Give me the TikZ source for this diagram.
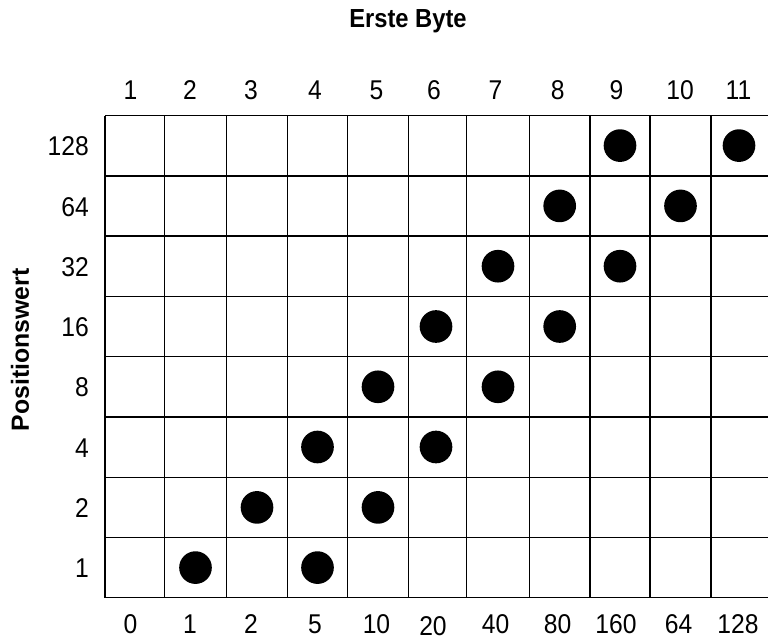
\documentclass[tikz,border=0pt]{standalone}
\usepackage{fontspec}
\setmainfont{Liberation Sans}
\usetikzlibrary{positioning}

\newcommand{\tallnum}[1]{\scalebox{1}[1.1]{#1}}

\begin{document}
\begin{tikzpicture}[
    x=0.75pt, y=-0.75pt,          % <── one unit = one pixel, y downwards
    every node/.style={font=\fontsize{18.5}{20}\selectfont},
    num_node/.style={inner sep=0pt, anchor=base},
    row_node/.style={inner sep=0pt, anchor=base east},
    head_node/.style={inner sep=0pt, font=\fontsize{17.8}{20}\selectfont\bfseries},
    dot_node/.style={circle, fill=black, minimum size=24.5pt, inner sep=0pt},
    grid_line/.style={line width=1.1pt}
    ]
    \useasboundingbox (0,0) rectangle (768,639);

    % Headings
    \node[head_node] (title) at (408,21) {\tallnum{Erste Byte}};
    \node[head_node, rotate=90, font=\fontsize{18.6}{20}\selectfont\bfseries] (axis) at (20,350) {Positionswert};

    % Grid
    \foreach \y in {115.5,175.8,236.1,296.4,356.7,417.0,477.3,537.6,597.7}
        \draw[grid_line] (105,\y) -- (768,\y);
    \foreach \x in {105,164.3,226.7,287.3,347.7,408.3,466.7,529.3,590,650,711}
        \draw[grid_line] (\x,115.5) -- (\x,597.7);

    % Column numbers
    \foreach \x/\lab [count=\i] in {130.5/1,190/2,251/3,315/4,376.5/5,434/6,495.5/7,557.7/8,616.5/9,680/10,738.5/11}
        \node[num_node] (col\i) at (\x,99) {\tallnum{\lab}};

    % Byte values
    \foreach \x/\y/\lab [count=\i] in {130.5/633.5/0,190/633.5/1,251/633.5/2,315/633.5/5,376.5/633.5/10,433/635/20,495.5/633.5/40,557.7/633.5/80,616/633.5/160,678.5/633.5/64,738/633.5/128}
        \node[num_node] (val\i) at (\x,\y) {\tallnum{\lab}};

    % Row values
    \foreach \y/\lab in {155.7/128,216/64,276.3/32,336.6/16,396.9/8,457.2/4,517.5/2,577.7/1}
        \node[row_node] (row\lab) at (89,\y) {\tallnum{\lab}};

    % Dots
    \foreach \x/\y/\n in {195.5/567.6/a, 257/507.4/b,
                          317.5/447/c, 317.5/567.6/d,
                          378/386.8/e, 378/507.4/f,
                          436/326.5/g, 436/447/h,
                          498/266.2/i, 498/386.8/j,
                          559.7/205.9/k, 559.7/326.5/l,
                          620/145.6/m, 620/266.2/n,
                          680.5/205.9/o, 739/145.6/p}
        \node[dot_node] (dot-\n) at (\x,\y) {};
\end{tikzpicture}
\end{document}
